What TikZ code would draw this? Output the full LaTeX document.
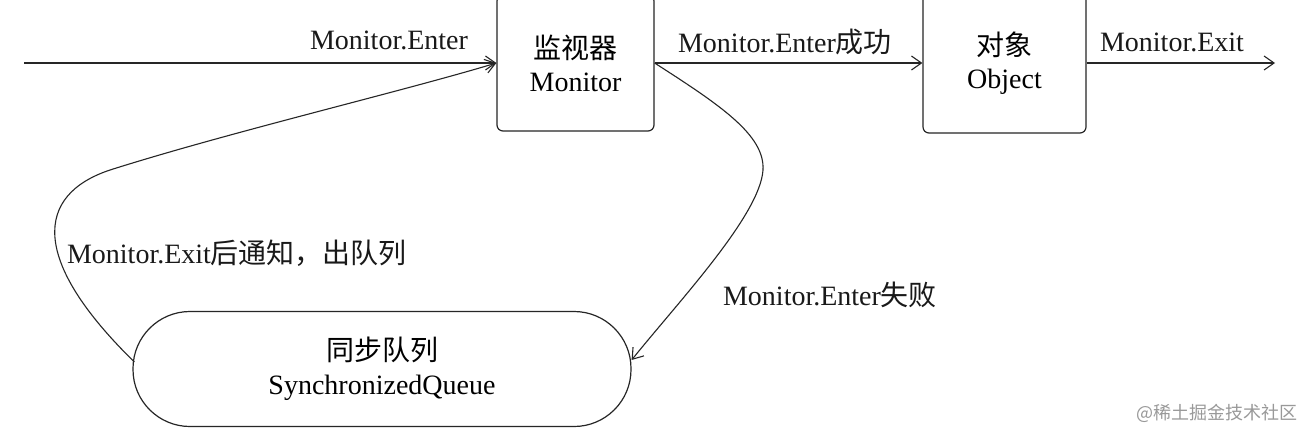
\documentclass[tikz,border=0pt]{standalone}
\usepackage{fontspec}
\setmainfont{Liberation Serif}
\newfontfamily\cjk{Noto Sans CJK SC}
\usetikzlibrary{arrows.meta,calc}
\begin{document}
\begin{tikzpicture}[x=1pt,y=-1pt,
  box/.style={draw=black!85,line width=1.2pt,rounded corners=6pt,align=center,
    font=\fontsize{28}{33}\selectfont,inner sep=0pt},
  queuebox/.style={draw=black!85,line width=1.2pt,rounded corners=57pt,align=center,
    font=\fontsize{28}{34}\selectfont,inner sep=0pt},
  lbl/.style={font=\fontsize{28}{33}\selectfont,inner sep=0pt,text=black!90},
  conn/.style={draw=black!85,line width=1.1pt,-{Straight Barb[length=10pt,width=14pt]}},
  plain/.style={draw=black!85,line width=1.1pt}]
\useasboundingbox (0,0) rectangle (1313,439);
\fill[white] (0,0) rectangle (1313,439);
\begin{scope}
\clip (0,0) rectangle (1313,439);
% nodes
\node[box,minimum width=157pt,minimum height=136pt] (mon) at (575.5,63) {{\cjk 监视器}\\Monitor};
\node[box,minimum width=163pt,minimum height=140pt] (obj) at (1004.5,63) {{\cjk 对象}\\Object};
\node[queuebox,minimum width=498pt,minimum height=115pt] (queue) at (382,369) {{\cjk 同步队列}\\SynchronizedQueue};
\coordinate (in) at (24,63);
\coordinate (out) at (1275,63);
% straight connectors
\draw[conn] (in) -- (mon.west);
\draw[conn] (mon.east) -- (obj.west);
\draw[conn] (obj.east) -- (out);
% failure curve
\draw[conn] (mon.east) .. controls (720,105) and (765,135) .. (763,170)
   .. controls (760,215) and (680,300) .. ($(queue.east)+(0,-9)$);
% exit-notify curve
\draw[conn] ($(queue.west)+(2,-7)$) .. controls (30,260) and (35,195) .. (110,170)
   .. controls (230,132) and (400,92) .. (mon.west);
% labels
\node[lbl] (l1) at (389,40) {Monitor.Enter};
\node[lbl] (l2) at (785,42) {Monitor.Enter{\cjk 成功}};
\node[lbl] (l3) at (1172,42) {Monitor.Exit};
\node[lbl] (l4) at (237,253) {Monitor.Exit{\cjk 后通知，出队列}};
\node[lbl] (l5) at (830,295) {Monitor.Enter{\cjk 失败}};
\node[font=\cjk\fontsize{18}{20}\selectfont,text=black!40,inner sep=0pt] (wm) at (1217,413) {@稀土掘金技术社区};
\end{scope}
\end{tikzpicture}
\end{document}
